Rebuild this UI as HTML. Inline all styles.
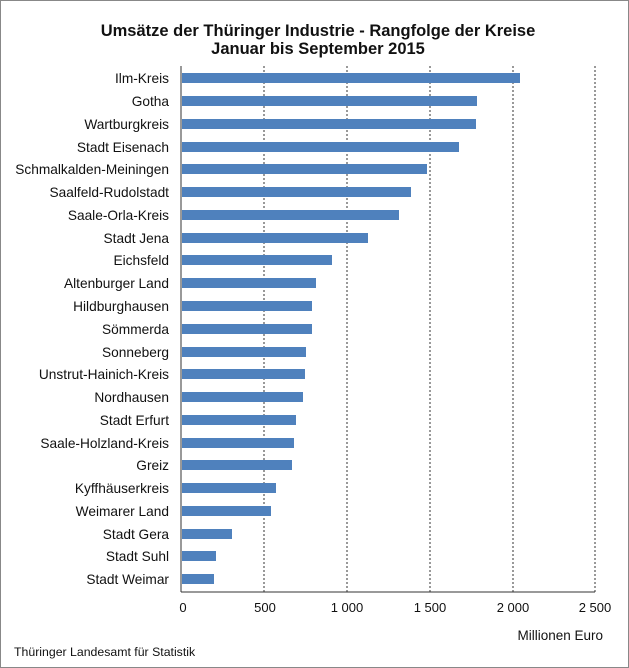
<!DOCTYPE html>
<html><head><meta charset="utf-8"><style>
body{margin:0;background:#fff}
svg{display:block;font-family:"Liberation Sans",sans-serif}
</style></head><body>
<svg width="629" height="668" viewBox="0 0 629 668">
<rect x="0.5" y="0.5" width="628" height="667" fill="#fff" stroke="#888"/>
<text x="318" y="36" text-anchor="middle" font-size="16.5" font-weight="bold" fill="#111">Umsätze der Thüringer Industrie - Rangfolge der Kreise</text>
<text x="318" y="54" text-anchor="middle" font-size="16.5" font-weight="bold" fill="#111">Januar bis September 2015</text>
<g stroke="#333" stroke-dasharray="2,2" stroke-width="1">
<line x1="264" y1="66" x2="264" y2="592"/><line x1="347" y1="66" x2="347" y2="592"/>
<line x1="430" y1="66" x2="430" y2="592"/><line x1="513" y1="66" x2="513" y2="592"/>
<line x1="595" y1="66" x2="595" y2="592"/>
</g>
<line x1="181" y1="66" x2="181" y2="592" stroke="#333"/>
<line x1="181" y1="592" x2="595" y2="592" stroke="#333"/>
<g font-size="13" fill="#111" text-anchor="middle">
<text x="183" y="612">0</text><text x="265" y="612">500</text><text x="347" y="612">1 000</text>
<text x="430" y="612">1 500</text><text x="513" y="612">2 000</text><text x="595" y="612">2 500</text>
</g>
<text x="603" y="640" font-size="13.5" text-anchor="end" fill="#111">Millionen Euro</text>
<text x="14" y="656" font-size="12.3" fill="#111">Thüringer Landesamt für Statistik</text>
<g fill="#4f81bd">
<rect x="182" y="73" width="338" height="10"/>
<rect x="182" y="96" width="295" height="10"/>
<rect x="182" y="119" width="294" height="10"/>
<rect x="182" y="142" width="277" height="10"/>
<rect x="182" y="164" width="245" height="10"/>
<rect x="182" y="187" width="229" height="10"/>
<rect x="182" y="210" width="217" height="10"/>
<rect x="182" y="233" width="186" height="10"/>
<rect x="182" y="255" width="150" height="10"/>
<rect x="182" y="278" width="134" height="10"/>
<rect x="182" y="301" width="130" height="10"/>
<rect x="182" y="324" width="130" height="10"/>
<rect x="182" y="347" width="124" height="10"/>
<rect x="182" y="369" width="123" height="10"/>
<rect x="182" y="392" width="121" height="10"/>
<rect x="182" y="415" width="114" height="10"/>
<rect x="182" y="438" width="112" height="10"/>
<rect x="182" y="460" width="110" height="10"/>
<rect x="182" y="483" width="94" height="10"/>
<rect x="182" y="506" width="89" height="10"/>
<rect x="182" y="529" width="50" height="10"/>
<rect x="182" y="551" width="34" height="10"/>
<rect x="182" y="574" width="32" height="10"/>
</g>
<g font-size="13.7" fill="#111" text-anchor="end">
<text x="169" y="83">Ilm-Kreis</text>
<text x="169" y="106">Gotha</text>
<text x="169" y="129">Wartburgkreis</text>
<text x="169" y="152">Stadt Eisenach</text>
<text x="169" y="174">Schmalkalden-Meiningen</text>
<text x="169" y="197">Saalfeld-Rudolstadt</text>
<text x="169" y="220">Saale-Orla-Kreis</text>
<text x="169" y="243">Stadt Jena</text>
<text x="169" y="265">Eichsfeld</text>
<text x="169" y="288">Altenburger Land</text>
<text x="169" y="311">Hildburghausen</text>
<text x="169" y="334">Sömmerda</text>
<text x="169" y="357">Sonneberg</text>
<text x="169" y="379">Unstrut-Hainich-Kreis</text>
<text x="169" y="402">Nordhausen</text>
<text x="169" y="425">Stadt Erfurt</text>
<text x="169" y="448">Saale-Holzland-Kreis</text>
<text x="169" y="470">Greiz</text>
<text x="169" y="493">Kyffhäuserkreis</text>
<text x="169" y="516">Weimarer Land</text>
<text x="169" y="539">Stadt Gera</text>
<text x="169" y="561">Stadt Suhl</text>
<text x="169" y="584">Stadt Weimar</text>
</g>
</svg>
</body></html>
